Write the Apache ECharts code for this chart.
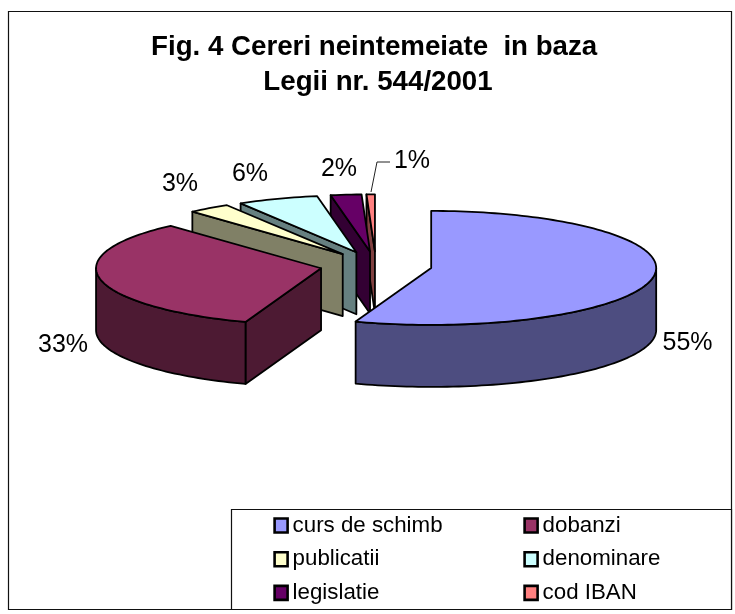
<!DOCTYPE html>
<html>
<head>
<meta charset="utf-8">
<style>html,body{margin:0;padding:0;background:#fff}#c{width:735px;height:614px}</style>
<script src="https://cdn.jsdelivr.net/npm/echarts@6/dist/echarts.min.js"></script>
</head>
<body>
<div id="c"></div>
<script>
const titleText = 'Fig. 4 Cereri neintemeiate  in baza \nLegii nr. 544/2001';
const categories = ['curs de schimb', 'dobanzi', 'publicatii', 'denominare', 'legislatie', 'cod IBAN'];
const values = [55.45, 32.9, 3.05, 5.8, 2.2, 0.6];
const topColors = ['#9999FF', '#993366', '#FFFFCC', '#CCFFFF', '#660066', '#FF8080'];
const wallColors = ['#4D4D80', '#4D1A33', '#808066', '#668080', '#330033', '#804040'];

// layout of the projected pie
const pie = { cx: 376, cy: 265.5, rx: 225, ry: 57, depth: 62, explode: 56 };
const drawOrder = [5, 4, 3, 2, 1, 0];
const labelCentres = [[687.5, 343], [63, 345.5], [180, 184], [250, 174], [339, 169], [412, 161]];
const leader = [[371, 192], [377, 162], [390, 162]];

const total = values.reduce((a, b) => a + b, 0);
const rad = d => d * Math.PI / 180;
function startAngle(i) {
  let s = 0;
  for (let k = 0; k < i; k++) s += values[k];
  return s / total * 360;
}
function sliceElements(i, value) {
  const a0 = startAngle(i), a1 = a0 + value / total * 360, mid = rad((a0 + a1) / 2);
  const ox = pie.cx + pie.explode * Math.sin(mid);
  const oy = pie.cy - pie.explode * pie.ry / pie.rx * Math.cos(mid);
  const rim = a => [ox + pie.rx * Math.sin(rad(a)), oy - pie.ry * Math.cos(rad(a))];
  const down = p => [p[0], p[1] + pie.depth];
  const arc = (from, to) => {
    const pts = [], n = Math.max(2, Math.ceil((to - from) / 1.5));
    for (let k = 0; k <= n; k++) pts.push(rim(from + (to - from) * k / n));
    return pts;
  };
  const line = { stroke: '#000', lineWidth: 1.8, lineJoin: 'round' };
  const poly = (points, fill) => ({ type: 'polygon', shape: { points }, style: Object.assign({ fill }, line) });
  const els = [];
  const apex = [ox, oy];
  if (Math.sin(rad(a0)) < 0) {
    const p = rim(a0);
    els.push(poly([apex, p, down(p), down(apex)], wallColors[i]));
  }
  if (Math.sin(rad(a1)) > 0.001) {
    const p = rim(a1);
    els.push(poly([apex, p, down(p), down(apex)], wallColors[i]));
  }
  const f0 = Math.max(a0, 90), f1 = Math.min(a1, 270);
  if (f1 > f0) {
    const top = arc(f0, f1);
    els.push(poly(top.concat(top.slice().reverse().map(down)), wallColors[i]));
  }
  els.push(poly([apex].concat(arc(a0, a1)), topColors[i]));
  if (i === categories.length - 1) {
    els.push({ type: 'polyline', shape: { points: leader }, style: { stroke: '#222', lineWidth: 1, fill: null } });
  }
  return els;
}
function labelElement(i, value) {
  return {
    type: 'text', z2: 50,
    style: {
      x: labelCentres[i][0], y: labelCentres[i][1], text: Math.round(value / total * 100) + '%',
      fill: '#000', font: '25px "Liberation Sans"', textAlign: 'center', textVerticalAlign: 'middle'
    }
  };
}
const series = categories.map((name, i) => ({
  type: 'custom', name, coordinateSystem: 'none', animation: false, silent: true,
  z: 2 + drawOrder.indexOf(i),
  itemStyle: { color: topColors[i] },
  data: [[values[i]]],
  renderItem: (params, api) => ({
    type: 'group',
    children: sliceElements(i, api.value(0)).concat([labelElement(i, api.value(0))])
  })
}));
const legendBase = {
  orient: 'vertical', icon: 'rect', itemWidth: 13, itemHeight: 14, itemGap: 11.7, padding: 0,
  selectedMode: false, itemStyle: { borderColor: '#000', borderWidth: 2.6 },
  textStyle: { fontFamily: 'Liberation Sans', fontSize: 22.3, color: '#000', lineHeight: 22, padding: [0, 0, 0, 0] }
};
const chart = echarts.init(document.getElementById('c'), null, { renderer: 'canvas' });
chart.setOption({
  animation: false,
  backgroundColor: '#fff',
  title: {
    text: titleText, left: 378, top: 30, textAlign: 'center', padding: 0,
    textStyle: { fontFamily: 'Liberation Sans', fontWeight: 'bold', fontSize: 27.7, lineHeight: 35, color: '#000' }
  },
  legend: [
    Object.assign({}, legendBase, { left: 273.3, top: 514.5, data: categories.filter((c, i) => i % 2 === 0) }),
    Object.assign({}, legendBase, { left: 523.3, top: 514.5, data: categories.filter((c, i) => i % 2 === 1) })
  ],
  graphic: [
    { type: 'rect', z: 0, shape: { x: 8.5, y: 11.5, width: 723, height: 598 }, style: { fill: '#fff', stroke: '#111', lineWidth: 1.2 } },
    { type: 'rect', z: 1, shape: { x: 231.5, y: 509.5, width: 500, height: 100 }, style: { fill: '#fff', stroke: '#111', lineWidth: 1.2 } }
  ],
  series
});
</script>
</body>
</html>
